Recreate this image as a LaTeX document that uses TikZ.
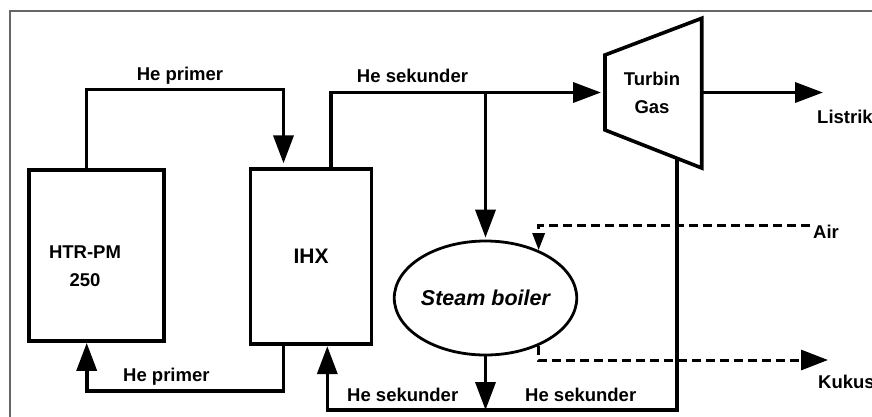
\documentclass[tikz,border=0pt]{standalone}
\usepackage{fontspec}
\setmainfont{Liberation Sans}
\usetikzlibrary{arrows.meta,shapes.geometric}
\begin{document}
\begin{tikzpicture}[x=1pt,y=-1pt,
  lbl/.style={font=\fontsize{18.5}{28}\selectfont\bfseries, inner sep=0pt, align=center},
  box/.style={draw, line width=3.8pt, inner sep=0pt},
  flow/.style={line width=3.6pt, -{Triangle[width=20pt,length=28pt]}},
  dflow/.style={line width=3pt, dash pattern=on 9pt off 5pt},
  bigtip/.style={-{Triangle[width=20pt,length=27pt]}},
  smalltip/.style={-{Triangle[width=12pt,length=17pt]}}
]
\useasboundingbox (0,0) rectangle (872,416);
% outer frame
\draw[line width=2pt, black!60] (9.5,430) -- (9.5,11) -- (890,11);

% boxes
\node[box, minimum width=135pt, minimum height=171pt] (htr) at (96.3,255.5) {};
\node[lbl] (htrtext) at (85,266) {HTR-PM\\250};
\node[box, minimum width=121pt, minimum height=175.5pt, font=\fontsize{21}{24}\selectfont\bfseries] (ihx) at (311,256.5) {IHX};
\node[draw, ellipse, line width=2.8pt, minimum width=177pt, minimum height=114pt, inner sep=0pt,
      font=\fontsize{21.5}{24}\selectfont\bfseries\itshape] (boiler) at (485.5,298) {Steam boiler};

% turbine
\draw[line width=3.6pt, line join=miter] (605,55) -- (701.7,18.3) -- (701.7,168) -- (605,130) -- cycle;
\coordinate (tin) at (605,92.5);
\coordinate (tout) at (701.7,92.5);
\coordinate (tbot) at (677,158.3);
\node[lbl] (turbtext) at (652,93) {Turbin\\Gas};

% helper coordinates
\coordinate (listrikend) at (823,92.5);
\coordinate (hebot) at (327.3,410);
\coordinate (hpbot) at (283.5,391);
\coordinate (airstart) at (810,225);
\coordinate (kukusend) at (828,360);

% connectors
\draw[flow, shorten >=3.5pt] ([xshift=-10pt]htr.north) -- ++(0,-78.5) -| ([xshift=-27.5pt]ihx.north);
\draw[flow, shorten >=4pt] ([xshift=20pt]ihx.north) |- (tin);
\draw[flow, shorten >=2pt] (boiler.north |- tin) -- (boiler.north);
\draw[flow] (tout) -- (listrikend);
\draw[flow] (tbot) |- (hebot) -- (hebot |- ihx.south);
\draw[flow] (boiler.south) -- (boiler.south |- hebot);
\draw[flow] (hpbot |- ihx.south) -- (hpbot) -| ([xshift=-9.6pt]htr.south);
\draw[dflow, smalltip] (airstart) -| (boiler.42);
\draw[dflow, bigtip] (boiler.-42) |- (kukusend);

% labels
\node[lbl] (hp1) at (180,75.5) {He primer};
\node[lbl] (hs1) at (412.5,76) {He sekunder};
\node[lbl, anchor=west] (hp2) at (123,377) {He primer};
\node[lbl, anchor=west] (hs2) at (347,395) {He sekunder};
\node[lbl, anchor=west] (hs3) at (525,395) {He sekunder};
\node[lbl, anchor=west] (listrik) at (817,117) {Listrik};
\node[lbl, anchor=west] (air) at (813,232) {Air};
\node[lbl, anchor=west] (kukus) at (818,382) {Kukus};
\end{tikzpicture}
\end{document}
